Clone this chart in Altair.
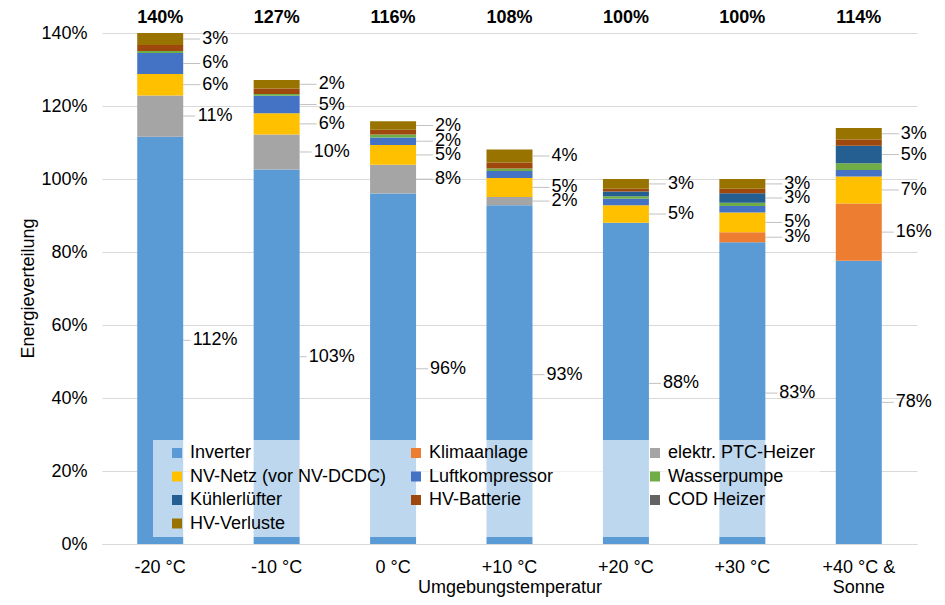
import altair as alt
import pandas as pd

categories = ["-20 °C", "-10 °C", "0 °C", "+10 °C", "+20 °C", "+30 °C", "+40 °C & Sonne"]
series = ["Inverter", "Klimaanlage", "elektr. PTC-Heizer", "NV-Netz (vor NV-DCDC)",
          "Luftkompressor", "Wasserpumpe", "Kühlerlüfter", "HV-Batterie", "COD Heizer", "HV-Verluste"]
colors = ["#5B9BD5", "#ED7D31", "#A5A5A5", "#FFC000", "#4472C4",
          "#70AD47", "#255E91", "#9E480E", "#636363", "#997300"]

inverter = [111.6, 102.6, 96.0, 92.8, 88.0, 82.7, 77.6]
klimaanlage = [0, 0, 0, 0, 0, 2.7, 15.7]
ptc_heizer = [11.3, 9.6, 7.9, 2.3, 0, 0, 0]
nv_netz = [5.9, 5.8, 5.4, 5.2, 4.8, 5.4, 7.4]
luftkompressor = [5.7, 4.8, 2.1, 1.9, 1.8, 1.8, 1.8]
wasserpumpe = [0.6, 0.5, 0.8, 0.7, 0.7, 0.9, 1.8]
kuehlerluefter = [0, 0, 0, 0, 1.3, 2.6, 4.8]
hv_batterie = [1.6, 1.5, 1.3, 1.6, 0.7, 1.2, 1.7]
cod_heizer = [0, 0, 0, 0, 0, 0, 0]
hv_verluste = [3.3, 2.3, 2.3, 3.6, 2.7, 2.7, 3.2]

y_ticks = [0, 20, 40, 60, 80, 100, 120, 140]

values = [inverter, klimaanlage, ptc_heizer, nv_netz, luftkompressor,
          wasserpumpe, kuehlerluefter, hv_batterie, cod_heizer, hv_verluste]

rows = []
for si, (name, vals) in enumerate(zip(series, values)):
    for ci, cat in enumerate(categories):
        rows.append({"cat": cat, "series": name, "value": vals[ci], "order": si})
df = pd.DataFrame(rows)

FONT = "Liberation Sans"
LABEL_DX = 55

xscale = alt.Scale(domain=categories, paddingInner=0.605, paddingOuter=0.3025)
yscale = alt.Scale(domain=[0, 140], nice=False)

x_axis = alt.Axis(
    title="Umgebungstemperatur", labelAngle=0, labelFontSize=18, labelColor="#000000",
    labelPadding=14, ticks=False, tickSize=0, domainColor="#D9D9D9", domainWidth=1,
    labelExpr="datum.label == '+40 °C & Sonne' ? ['+40 °C &', 'Sonne'] : datum.label",
    labelLineHeight=20, labelBaseline="top", titleFontSize=18, titleFontWeight="normal",
    titleColor="#000000", titleY=48, titleBaseline="alphabetic", grid=False,
)
y_axis = alt.Axis(
    values=y_ticks, labelExpr="datum.value + '%'", grid=True, gridColor="#D9D9D9",
    domain=False, ticks=False, tickSize=0, labelPadding=15, labelFontSize=18,
    labelColor="#000000", title="Energieverteilung", titleFontSize=18,
    titleFontWeight="normal", titleColor="#000000", titleX=-74, titleY=255,
    titleAngle=270, titleAlign="center", titleBaseline="middle",
)

base = alt.Chart(df).transform_stack(
    stack="value", groupby=["cat"], sort=[alt.SortField("order", order="ascending")],
    as_=["y0", "y1"],
).transform_calculate(ymid="(datum.y0 + datum.y1) / 2")

X = alt.X("cat:N", scale=xscale, sort=categories, axis=x_axis)

# trailing en spaces widen the last legend column so the legend panel is as wide as the original
legend_label_expr = (
    "datum.value == 'elektr. PTC-Heizer' ? datum.label + '\u2002\u2002\u2002\u2002\u2002' : datum.label"
)

bars = base.mark_bar().encode(
    x=X,
    y=alt.Y("y0:Q", scale=yscale, axis=y_axis),
    y2="y1:Q",
    color=alt.Color(
        "series:N", scale=alt.Scale(domain=series, range=colors),
        legend=alt.Legend(
            title=None, orient="none", legendX=51, legendY=407, columns=3,
            direction="horizontal", columnPadding=9, rowPadding=5.5, gridAlign="all",
            symbolType="square", symbolSize=100, symbolStrokeWidth=0, symbolOffset=11,
            labelFontSize=18, labelFont=FONT, labelColor="#000000", labelOffset=4,
            labelLimit=400, labelExpr=legend_label_expr,
            fillColor="rgba(255,255,255,0.6)", padding=4, zindex=1,
        ),
    ),
)

labeled = base.transform_filter("datum.value >= 2").transform_calculate(
    txt="format(datum.value, '.0f') + '%'"
)

# leader lines: from bar edge to just before the label (label width depends on text length)
leaders = []
for n_chars in (2, 3, 4):
    end = LABEL_DX - (5 * n_chars + 3) - 2
    size = end - 23
    leaders.append(
        labeled.transform_filter(f"length(datum.txt) == {n_chars}").mark_tick(
            orient="horizontal", size=size, thickness=1,
            xOffset=23 + size / 2, color="#A6A6A6",
        ).encode(x=X, y=alt.Y("ymid:Q", scale=yscale))
    )

seg_labels = labeled.mark_text(align="center", baseline="middle", dx=LABEL_DX,
                               fontSize=18, color="#000000").encode(
    x=X, y=alt.Y("ymid:Q", scale=yscale), text="txt:N"
)

totals = alt.Chart(df).transform_aggregate(
    total="sum(value)", groupby=["cat"]
).transform_calculate(txt="format(datum.total, '.0f') + '%'").mark_text(
    fontSize=18, fontWeight="bold", baseline="middle", color="#000000"
).encode(x=X, y=alt.value(-15), text="txt:N")

chart = alt.layer(bars, *leaders, seg_labels, totals).properties(
    width=815, height=511,
    padding={"left": 94, "top": 25, "right": 20, "bottom": 53},
    autosize="none",
).configure(font=FONT).configure_view(stroke=None)

chart.save("out.html", embed_options={"renderer": "svg", "actions": False})
